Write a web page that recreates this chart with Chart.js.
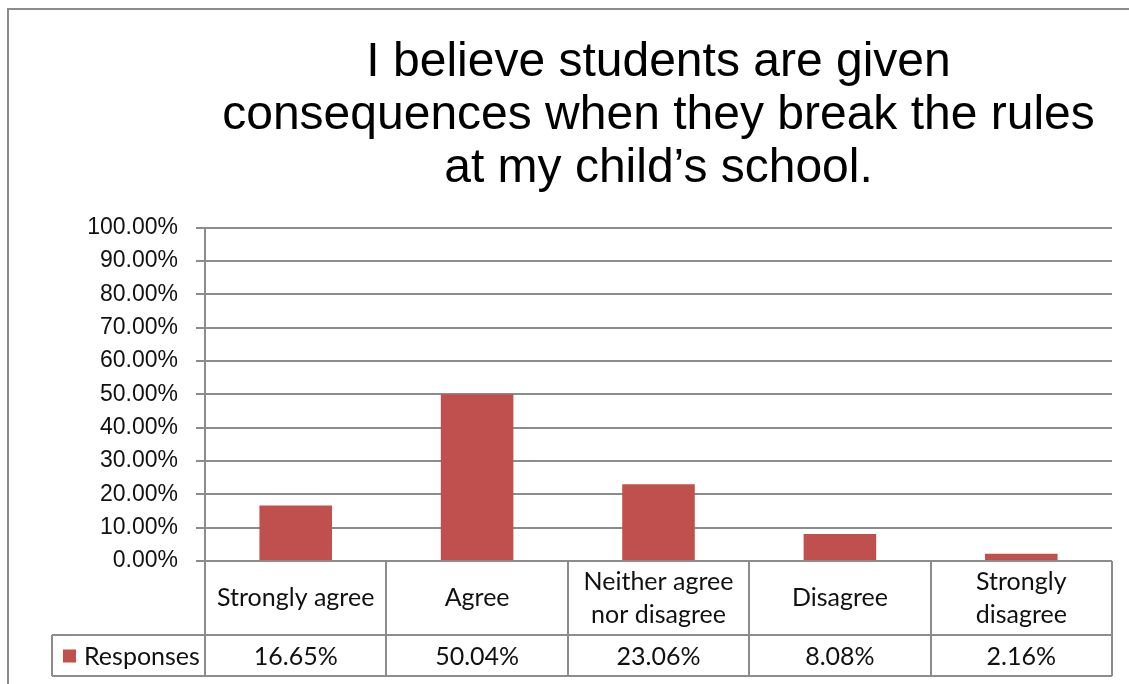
<!DOCTYPE html>
<html>
<head>
<meta charset="utf-8">
<script src="https://cdn.jsdelivr.net/npm/chart.js@4"></script>
<style>
  html, body { margin: 0; padding: 0; background: #fff; }
  #wrap { width: 1129px; height: 684px; }
</style>
</head>
<body>
<div id="wrap"><canvas id="chart"></canvas></div>
<script>
const titleLines = ['I believe students are given', 'consequences when they break the rules', 'at my child\u2019s school.'];
const categories = [['Strongly agree'], ['Agree'], ['Neither agree', 'nor disagree'], ['Disagree'], ['Strongly', 'disagree']];
const responses = [16.65, 50.04, 23.06, 8.08, 2.16];
const seriesName = 'Responses';
const barColor = '#C0504D';
const lineGray = '#8c8c8c';
const tableFont = '25px Lato';

// frame + data table under the plot
const tablePlugin = {
  id: 'dataTable',
  beforeDraw(chart) {
    const c = chart.ctx;
    c.save();
    c.strokeStyle = lineGray;
    c.lineWidth = 2;
    c.beginPath();
    c.moveTo(8, 684); c.lineTo(8, 9); c.lineTo(1129, 9);
    c.stroke();
    c.restore();
  },
  afterDraw(chart) {
    const c = chart.ctx;
    const x = chart.scales.x;
    const top = chart.chartArea.bottom;
    const mid = top + 74;
    const bot = top + 115;
    const legLeft = 52;
    const n = categories.length;
    const w = (x.right - x.left) / n;
    c.save();
    c.strokeStyle = lineGray;
    c.lineWidth = 2;
    c.beginPath();
    for (let i = 0; i <= n; i++) {
      const px = Math.round(x.left + i * w);
      c.moveTo(px, top); c.lineTo(px, bot);
    }
    c.moveTo(legLeft, mid); c.lineTo(x.right, mid);
    c.moveTo(legLeft, bot); c.lineTo(x.right, bot);
    c.moveTo(legLeft, mid); c.lineTo(legLeft, bot);
    c.moveTo(x.left, top); c.lineTo(x.right, top);
    c.stroke();

    c.fillStyle = '#111';
    c.font = tableFont;
    c.textAlign = 'center';
    c.textBaseline = 'middle';
    categories.forEach((lab, i) => {
      const cx = x.getPixelForValue(i);
      const cy = (top + mid) / 2;
      const lh = 33;
      lab.forEach((s, j) => {
        c.fillText(s, cx, cy + (j - (lab.length - 1) / 2) * lh);
      });
      c.fillText(responses[i].toFixed(2) + '%', cx, (mid + bot) / 2 + 1);
    });
    c.fillStyle = barColor;
    c.fillRect(63, (mid + bot) / 2 - 6, 13, 13);
    c.fillStyle = '#111';
    c.textAlign = 'left';
    c.fillText(seriesName, 84, (mid + bot) / 2 + 1);
    c.restore();
  }
};

new Chart(document.getElementById('chart'), {
  type: 'bar',
  data: {
    labels: categories,
    datasets: [{
      label: seriesName,
      data: responses,
      backgroundColor: barColor,
      barPercentage: 0.4,
      categoryPercentage: 1
    }]
  },
  options: {
    responsive: true,
    maintainAspectRatio: false,
    animation: false,
    layout: { padding: { left: 0, right: 17, top: 0, bottom: 123 } },
    plugins: {
      legend: { display: false },
      tooltip: { enabled: false },
      title: {
        display: true,
        fullSize: false,
        text: titleLines,
        color: '#000',
        font: { family: 'Liberation Sans', size: 48, weight: 'normal', lineHeight: 1.11 },
        padding: { top: 36, bottom: 32 }
      }
    },
    scales: {
      x: {
        display: false
      },
      y: {
        min: 0,
        max: 100,
        ticks: {
          stepSize: 10,
          padding: 18,
          color: '#111',
          font: { family: 'Liberation Sans', size: 23 },
          callback: v => v.toFixed(2) + '%'
        },
        grid: { color: lineGray, lineWidth: 2, tickLength: 9 },
        border: { display: true, color: lineGray, width: 2 },
        afterFit(scale) { scale.width = 205; }
      }
    }
  },
  plugins: [tablePlugin]
});
</script>
</body>
</html>
